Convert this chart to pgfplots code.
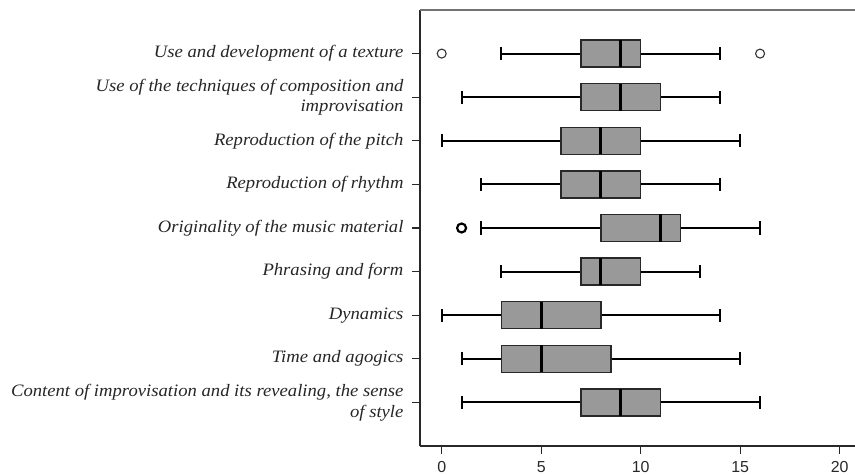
\documentclass[border=0pt]{standalone}
\usepackage{fontspec}
\setmainfont{Liberation Serif}
\newfontfamily\labfont[FakeStretch=1.07]{Liberation Serif}
\newfontfamily\sansfont{Liberation Sans}
\usepackage{pgfplots}
\usepgfplotslibrary{statistics}
\pgfplotsset{compat=1.18}
\definecolor{boxgray}{RGB}{153,153,153}
\definecolor{edge}{RGB}{40,40,40}
\begin{document}
\begin{tikzpicture}
\useasboundingbox (0,0) rectangle (855bp,475bp);
\begin{axis}[
  at={(420bp,29bp)}, anchor=south west,
  scale only axis, width=435bp, height=436bp,
  xmin=-1.09, xmax=20.77, ymin=0, ymax=10,
  axis x line*=bottom, axis y line*=left,
  axis line style={edge, line width=1.3bp},
  tick style={edge, line width=1.3bp},
  tick align=outside, major tick length=8bp,
  xtick={0,5,10,15,20},
  ytick={1,2,3,4,5,6,7,8,9},
  yticklabels={
    {Content of improvisation and its revealing, the sense\\of style},
    {Time and agogics},
    {Dynamics},
    {Phrasing and form},
    {Originality of the music material},
    {Reproduction of rhythm},
    {Reproduction of the pitch},
    {Use of the techniques of composition and\\improvisation},
    {Use and development of a texture}},
  /pgf/number format/assume math mode=true,
  xticklabel style={font=\fontsize{16}{16}\selectfont\sansfont, text=edge, yshift=-4bp},
  yticklabel style={font=\fontsize{17.5}{21}\selectfont\labfont\itshape, align=right, text=black!85, xshift=-5bp},
  boxplot/draw direction=x,
  boxplot/box extend=0.62,
  boxplot/whisker extend=0.3,
  boxplot/every box/.style={fill=boxgray, draw=edge, line width=1.5bp},
  boxplot/every median/.style={black, line width=3bp},
  boxplot/every whisker/.style={black, line width=2bp},
  clip=false,
]
\draw[black!55, line width=1.3bp] (rel axis cs:0,1) -- (rel axis cs:1,1);
% 9 Use and development of a texture
\addplot[black, mark=o, mark size=4.5bp, mark options={line width=1.1bp, draw=black!80},
  boxplot prepared={draw position=9, lower whisker=3, lower quartile=7, median=9, upper quartile=10, upper whisker=14}]
  table[row sep=\\, y index=0]{0\\16\\};
% 8 Use of techniques
\addplot[black, boxplot prepared={draw position=8, lower whisker=1, lower quartile=7, median=9, upper quartile=11, upper whisker=14}]
  coordinates {};
% 7 Reproduction of pitch
\addplot[black, boxplot prepared={draw position=7, lower whisker=0, lower quartile=6, median=8, upper quartile=10, upper whisker=15}]
  coordinates {};
% 6 Reproduction of rhythm
\addplot[black, boxplot prepared={draw position=6, lower whisker=2, lower quartile=6, median=8, upper quartile=10, upper whisker=14}]
  coordinates {};
% 5 Originality
\addplot[black, mark=o, mark size=4.5bp, mark options={line width=2.2bp},
  boxplot prepared={draw position=5, lower whisker=2, lower quartile=8, median=11, upper quartile=12, upper whisker=16}]
  table[row sep=\\, y index=0]{1\\};
% 4 Phrasing and form
\addplot[black, boxplot prepared={draw position=4, lower whisker=3, lower quartile=7, median=8, upper quartile=10, upper whisker=13}]
  coordinates {};
% 3 Dynamics
\addplot[black, boxplot prepared={draw position=3, lower whisker=0, lower quartile=3, median=5, upper quartile=8, upper whisker=14}]
  coordinates {};
% 2 Time and agogics
\addplot[black, boxplot prepared={draw position=2, lower whisker=1, lower quartile=3, median=5, upper quartile=8.5, upper whisker=15}]
  coordinates {};
% 1 Content of improvisation
\addplot[black, boxplot prepared={draw position=1, lower whisker=1, lower quartile=7, median=9, upper quartile=11, upper whisker=16}]
  coordinates {};
\end{axis}
\end{tikzpicture}
\end{document}
